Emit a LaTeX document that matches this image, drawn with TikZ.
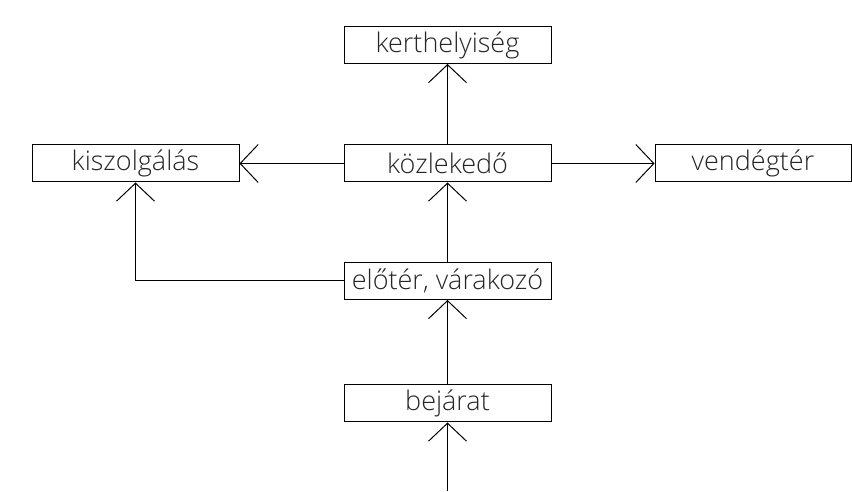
\documentclass[tikz,border=0pt]{standalone}
\usepackage{fontspec}
\setmainfont{Open Sans Light}
\usetikzlibrary{arrows.meta,positioning,calc}

\tikzset{
  room/.style={draw, line width=1pt, rectangle, minimum width=207pt, minimum height=37pt,
    inner sep=0pt, font=\fontsize{27}{32}\selectfont, text=black!85},
  flow/.style={-{Straight Barb[length=18pt,width=38pt,line width=1pt]}, line width=1pt}
}

\begin{document}
\begin{tikzpicture}[x=1pt,y=1pt]
\useasboundingbox (0,0) rectangle (852,492);
\node[room] (kert) at (447.5,447) {kerthelyiség};
\node[room] (kozl) at (447.5,328.5) {közlekedő};
\node[room] (kisz) at (135.5,328.5) {kiszolgálás};
\node[room, minimum width=196pt] (vend) at (753,328.5) {vendégtér};
\node[room] (elo) at (447.5,211) {előtér, várakozó};
\node[room] (bej) at (447.5,88.5) {bejárat};
\coordinate (be) at (447.5,1);

\draw[flow] (kozl)--(kert);
\draw[flow] (kozl)--(kisz);
\draw[flow] (kozl)--(vend);
\draw[flow] (elo)--(kozl);
\draw[flow] (elo.west) -| (kisz.south);
\draw[flow] (bej)--(elo);
\draw[flow] (be)--(bej);
\end{tikzpicture}
\end{document}
